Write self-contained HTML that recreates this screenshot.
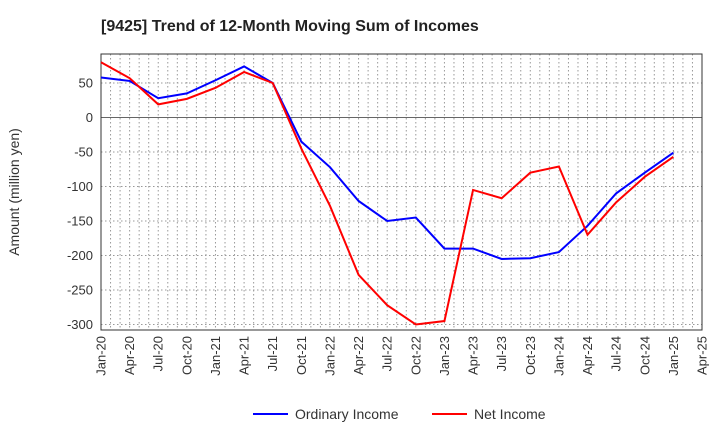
<!DOCTYPE html>
<html><head><meta charset="utf-8"><style>
body{margin:0;background:#fff;font-family:"Liberation Sans",sans-serif}
</style></head><body>
<svg id="chart" width="720" height="440" xmlns="http://www.w3.org/2000/svg" font-family="Liberation Sans, sans-serif">
<text x="101" y="31" font-size="16" font-weight="bold" fill="#222">[9425]  Trend of 12-Month Moving Sum of Incomes</text>
<g id="grid"></g><g id="axes"></g><g id="series"></g>
<text transform="translate(19,192) rotate(-90)" text-anchor="middle" font-size="14" fill="#333">Amount (million yen)</text>
<g>
<line x1="253" y1="414" x2="288" y2="414" stroke="#0000ff" stroke-width="2"/>
<text x="295" y="419" font-size="14" fill="#333">Ordinary Income</text>
<line x1="432" y1="414" x2="467" y2="414" stroke="#ff0000" stroke-width="2"/>
<text x="474" y="419" font-size="14" fill="#333">Net Income</text>
</g>
</svg>
<script>
const xLabels=["Jan-20","Apr-20","Jul-20","Oct-20","Jan-21","Apr-21","Jul-21","Oct-21","Jan-22","Apr-22","Jul-22","Oct-22","Jan-23","Apr-23","Jul-23","Oct-23","Jan-24","Apr-24","Jul-24","Oct-24","Jan-25","Apr-25"];
const yTicks=[50,0,-50,-100,-150,-200,-250,-300];
const ordinaryIncome=[58,53,28,35,54,74,50,-35,-72,-121,-150,-145,-190,-190,-205,-204,-195,-157,-110,-80,-51];
const netIncome=[80,57,19,27,43,66,50,-45,-128,-228,-272,-300,-295,-105,-117,-80,-71,-170,-123,-86,-57];
const L=101,R=702,T=54,B=330;
const x=i=>L+i*(R-L)/21;
const y=v=>117.5-v*34.5/50;
const NS="http://www.w3.org/2000/svg";
function mk(tag,attrs,parent){const e=document.createElementNS(NS,tag);for(const k in attrs)e.setAttribute(k,attrs[k]);parent.appendChild(e);return e;}
const grid=document.getElementById('grid'),axes=document.getElementById('axes'),series=document.getElementById('series');
for(let m=1;m<63;m++){const xx=L+m*(R-L)/63;const l=mk('line',{x1:xx,x2:xx,y1:T,y2:B,stroke:'#999','stroke-dasharray':'1.5,2.5','stroke-width':1},grid);

}
yTicks.forEach(v=>{const yy=y(v);const l=mk('line',{x1:L,x2:R,y1:yy,y2:yy,stroke:v===0?'#666':'#999','stroke-dasharray':v===0?'none':'1.5,2.5','stroke-width':1},grid);


const t=mk('text',{x:L-8,y:yy+4.5,'text-anchor':'end','font-size':13,fill:'#333'},axes);t.textContent=v;

});
const fr=mk('rect',{x:L,y:T,width:R-L,height:B-T,fill:'none',stroke:'#333','stroke-width':1},axes);


xLabels.forEach((s,i)=>{const xx=x(i);const t=mk('text',{transform:`translate(${xx+4.5},${B+6}) rotate(-90)`,'text-anchor':'end','font-size':13,fill:'#333'},axes);t.textContent=s;

});
function line(data,color,name){const p=mk('polyline',{points:data.map((v,i)=>x(i)+','+y(v)).join(' '),fill:'none',stroke:color,'stroke-width':2},series);

}
line(ordinaryIncome,'#0000ff','ordinary-income-line');
line(netIncome,'#ff0000','net-income-line');
</script>
</body></html>
